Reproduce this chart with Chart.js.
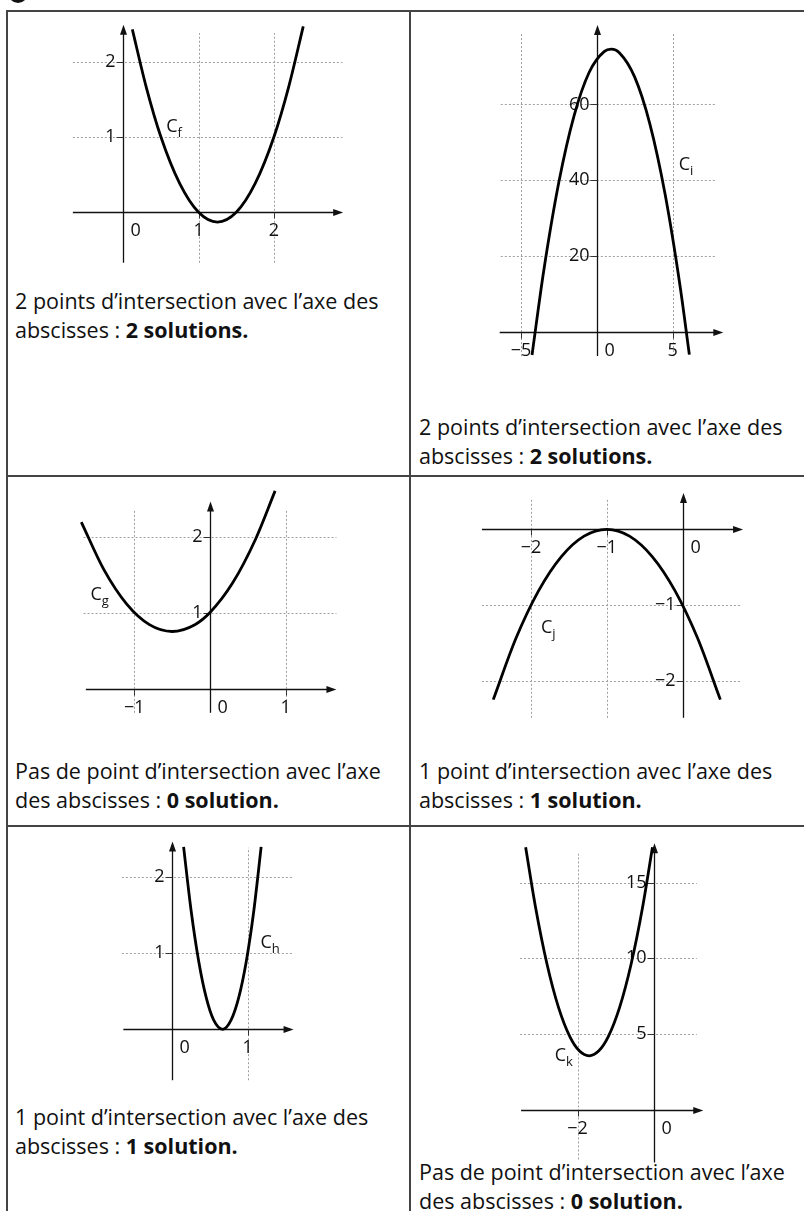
<!DOCTYPE html>
<html>
<head>
<meta charset="utf-8">
<script src="https://cdn.jsdelivr.net/npm/chart.js@4/dist/chart.umd.min.js"></script>
<style>
  body { margin: 0; width: 804px; height: 1211px; overflow: hidden; background: #fff; position: relative; font-family: "Open Sans", sans-serif; }
  .rule { position: absolute; background: #444; }
  .cap { position: absolute; font-size: 21.5px; line-height: 29px; color: #111; white-space: nowrap; }
  .cap b { font-weight: 700; }
  canvas { position: absolute; }
  #dot { position: absolute; left: 8px; top: -17px; width: 20px; height: 20px; border-radius: 50%; background: #111; }
</style>
</head>
<body>
<div id="dot"></div>
<div class="rule" style="left:6px;top:10px;width:798px;height:2px"></div>
<div class="rule" style="left:6px;top:10px;width:2px;height:1201px"></div>
<div class="rule" style="left:409px;top:10px;width:2px;height:1201px"></div>
<div class="rule" style="left:6px;top:475px;width:798px;height:2px"></div>
<div class="rule" style="left:6px;top:825px;width:798px;height:2px"></div>

<div class="cap" style="left:15px;top:286px">2 points d’intersection avec l’axe des<br>abscisses : <b>2 solutions.</b></div>
<div class="cap" style="left:419px;top:412px">2 points d’intersection avec l’axe des<br>abscisses : <b>2 solutions.</b></div>
<div class="cap" style="left:15px;top:756px">Pas de point d’intersection avec l’axe<br>des abscisses : <b>0 solution.</b></div>
<div class="cap" style="left:419px;top:756px">1 point d’intersection avec l’axe des<br>abscisses : <b>1 solution.</b></div>
<div class="cap" style="left:15px;top:1102px">1 point d’intersection avec l’axe des<br>abscisses : <b>1 solution.</b></div>
<div class="cap" style="left:419px;top:1157px">Pas de point d’intersection avec l’axe<br>des abscisses : <b>0 solution.</b></div>

<canvas id="cf"></canvas>
<canvas id="ci"></canvas>
<canvas id="cg"></canvas>
<canvas id="cj"></canvas>
<canvas id="ch"></canvas>
<canvas id="ck"></canvas>

<script>
// curve points
const fX = [0.12, 0.3, 0.5, 0.75, 1, 1.25, 1.5, 1.75, 2, 2.2, 2.39]
const fY = [2.43, 1.68, 1.0, 0.38, 0, -0.13, 0, 0.38, 1.0, 1.68, 2.47]

const iX = [-4.27, -3.5, -2.5, -1.5, -0.5, 0.5, 0.95, 1.5, 2.5, 3.5, 4.5, 5.5, 6.1]
const iY = [-6.2, 16.0, 39.5, 57.0, 68.5, 74.0, 74.6, 73.6, 67.2, 54.8, 36.3, 11.7, -6.1]

const gX = [-1.7, -1.4, -1.1, -0.8, -0.5, -0.2, 0, 0.3, 0.6, 0.86]
const gY = [2.19, 1.56, 1.11, 0.84, 0.75, 0.84, 1.0, 1.39, 1.96, 2.6]

const jX = [-2.5, -2.2, -1.9, -1.6, -1.3, -1, -0.7, -0.4, -0.1, 0.2, 0.5]
const jY = [-2.25, -1.44, -0.81, -0.36, -0.09, 0, -0.09, -0.36, -0.81, -1.44, -2.25]

const hX = [0.15, 0.25, 0.35, 0.45, 0.55, 0.67, 0.78, 0.88, 0.98, 1.08, 1.18]
const hY = [2.4, 1.56, 0.9, 0.42, 0.12, 0, 0.12, 0.41, 0.88, 1.54, 2.4]

const kX = [-3.36, -3.1, -2.8, -2.5, -2.2, -1.95, -1.7, -1.45, -1.2, -0.9, -0.6, -0.3, -0.04]
const kY = [17.33, 13.35, 9.6, 6.75, 4.8, 3.86, 3.55, 3.86, 4.8, 6.75, 9.6, 13.35, 17.33]

// tick values
const fTicksX = [1, 2], fTicksY = [1, 2]
const iTicksX = [-5, 5], iTicksY = [20, 40, 60]
const gTicksX = [-1, 1], gTicksY = [1, 2]
const jTicksX = [-2, -1], jTicksY = [-1, -2]
const hTicksX = [1], hTicksY = [1, 2]
const kTicksX = [-2], kTicksY = [5, 10, 15]

// layout of each little graph (page pixels, then data units)
const panels = [
  { id: 'cf', name: 'f', xs: fX, ys: fY, tx: fTicksX, ty: fTicksY,
    box: [8, 12, 400, 262], origin: [123.3, 212.3], unit: [75.3, 75.3],
    gridX: [-0.67, 2.91], gridY: [-0.67, 2.38], axisX: [-0.67, 2.92], axisY: [-0.67, 2.49], nameAt: [0.57, 1.07] },
  { id: 'ci', name: 'i', xs: iX, ys: iY, tx: iTicksX, ty: iTicksY,
    box: [412, 12, 390, 360], origin: [596.8, 331.5], unit: [15.17, 3.785],
    gridX: [-6.33, 7.86], gridY: [-6.5, 78.9], axisX: [-6.4, 8.34], axisY: [-6.5, 81], nameAt: [5.4, 42.7] },
  { id: 'cg', name: 'g', xs: gX, ys: gY, tx: gTicksX, ty: gTicksY,
    box: [8, 478, 400, 246], origin: [210, 688.5], unit: [75.7, 76],
    gridX: [-1.67, 1.67], gridY: [-0.32, 2.36], axisX: [-1.64, 1.67], axisY: [-0.32, 2.46], nameAt: [-1.58, 1.16] },
  { id: 'cj', name: 'j', xs: jX, ys: jY, tx: jTicksX, ty: jTicksY,
    box: [412, 478, 390, 246], origin: [682.5, 529.3], unit: [75.7, 75.7],
    gridX: [-2.65, 0.76], gridY: [-2.49, 0.39], axisX: [-2.65, 0.8], axisY: [-2.49, 0.48], nameAt: [-1.87, -1.37] },
  { id: 'ch', name: 'h', xs: hX, ys: hY, tx: hTicksX, ty: hTicksY,
    box: [8, 828, 400, 262], origin: [172.3, 1029.3], unit: [75.3, 76],
    gridX: [-0.67, 1.6], gridY: [-0.67, 2.39], axisX: [-0.65, 1.61], axisY: [-0.67, 2.47], nameAt: [1.17, 1.07] },
  { id: 'ck', name: 'k', xs: kX, ys: kY, tx: kTicksX, ty: kTicksY,
    box: [412, 828, 390, 340], origin: [654, 1109.5], unit: [38.2, 15.13],
    gridX: [-3.51, 1.12], gridY: [-3.3, 16.9], axisX: [-3.48, 1.29], axisY: [-3.5, 17.6], nameAt: [-2.6, 3.2] },
]

const FONT = '"Open Sans", sans-serif'
const fmt = v => String(v).replace('-', '\u2212')
const crisp = p => Math.round(p) + 0.5

const framePlugin = {
  id: 'frame',
  beforeDatasetsDraw(chart, args, p) {
    const { ctx } = chart
    const X = v => chart.scales.x.getPixelForValue(v)
    const Y = v => chart.scales.y.getPixelForValue(v)
    const seg = (x1, y1, x2, y2) => { ctx.beginPath(); ctx.moveTo(x1, y1); ctx.lineTo(x2, y2); ctx.stroke() }
    const x0 = crisp(X(0)), y0 = crisp(Y(0))
    ctx.save()

    // dotted grid
    ctx.strokeStyle = '#a0a0a0'
    ctx.lineWidth = 1
    ctx.setLineDash([2, 2])
    p.ty.forEach(t => seg(X(p.gridX[0]), crisp(Y(t)), X(p.gridX[1]), crisp(Y(t))))
    p.tx.forEach(t => seg(crisp(X(t)), Y(p.gridY[0]), crisp(X(t)), Y(p.gridY[1])))
    ctx.setLineDash([])

    // axes with arrows
    ctx.strokeStyle = '#111'
    ctx.fillStyle = '#111'
    ctx.lineWidth = 1.3
    const xe = X(p.axisX[1]), ye = Y(p.axisY[1])
    seg(X(p.axisX[0]), y0, xe - 4, y0)
    seg(x0, Y(p.axisY[0]), x0, ye + 4)
    ctx.beginPath(); ctx.moveTo(xe, y0); ctx.lineTo(xe - 10, y0 - 3.5); ctx.lineTo(xe - 10, y0 + 3.5); ctx.closePath(); ctx.fill()
    ctx.beginPath(); ctx.moveTo(x0, ye); ctx.lineTo(x0 - 3.5, ye + 10); ctx.lineTo(x0 + 3.5, ye + 10); ctx.closePath(); ctx.fill()

    // tick marks
    ctx.lineWidth = 1
    ctx.strokeStyle = '#333'
    p.tx.forEach(t => seg(crisp(X(t)), y0, crisp(X(t)), y0 + 6))
    p.ty.forEach(t => seg(x0 - 7, crisp(Y(t)), x0, crisp(Y(t))))

    // tick labels
    ctx.fillStyle = '#111'
    ctx.font = '18px ' + FONT
    ctx.textBaseline = 'middle'
    ctx.textAlign = 'center'
    p.tx.forEach(t => ctx.fillText(fmt(t), X(t), y0 + 18))
    ctx.textAlign = 'left'
    ctx.fillText('0', x0 + 7, y0 + 18)
    ctx.textAlign = 'right'
    p.ty.forEach(t => ctx.fillText(fmt(t), x0 - 8, Y(t)))

    // curve name
    const nx = X(p.nameAt[0]), ny = Y(p.nameAt[1])
    ctx.textAlign = 'left'
    ctx.textBaseline = 'alphabetic'
    ctx.font = '18px ' + FONT
    ctx.fillText('C', nx, ny)
    const w = ctx.measureText('C').width
    ctx.font = '13px ' + FONT
    ctx.fillText(p.name, nx + w, ny + 5)
    ctx.restore()
  }
}

panels.forEach(p => {
  const [left, top, w, h] = p.box
  const ox = p.origin[0] - left, oy = p.origin[1] - top
  const cv = document.getElementById(p.id)
  cv.width = w
  cv.height = h
  cv.style.left = left + 'px'
  cv.style.top = top + 'px'
  cv.style.width = w + 'px'
  cv.style.height = h + 'px'

  new Chart(cv, {
    type: 'line',
    data: {
      datasets: [{
        data: p.xs.map((x, i) => ({ x, y: p.ys[i] })),
        borderColor: '#000',
        borderWidth: 2.8,
        pointRadius: 0,
        fill: false,
        cubicInterpolationMode: 'monotone',
      }],
    },
    options: {
      responsive: false,
      animation: false,
      events: [],
      layout: { padding: 0 },
      plugins: { legend: { display: false }, tooltip: { enabled: false }, frame: p },
      scales: {
        x: { type: 'linear', display: false, min: -ox / p.unit[0], max: (w - ox) / p.unit[0] },
        y: { type: 'linear', display: false, min: -(h - oy) / p.unit[1], max: oy / p.unit[1] },
      },
    },
    plugins: [framePlugin],
  })
})
</script>
</body>
</html>
